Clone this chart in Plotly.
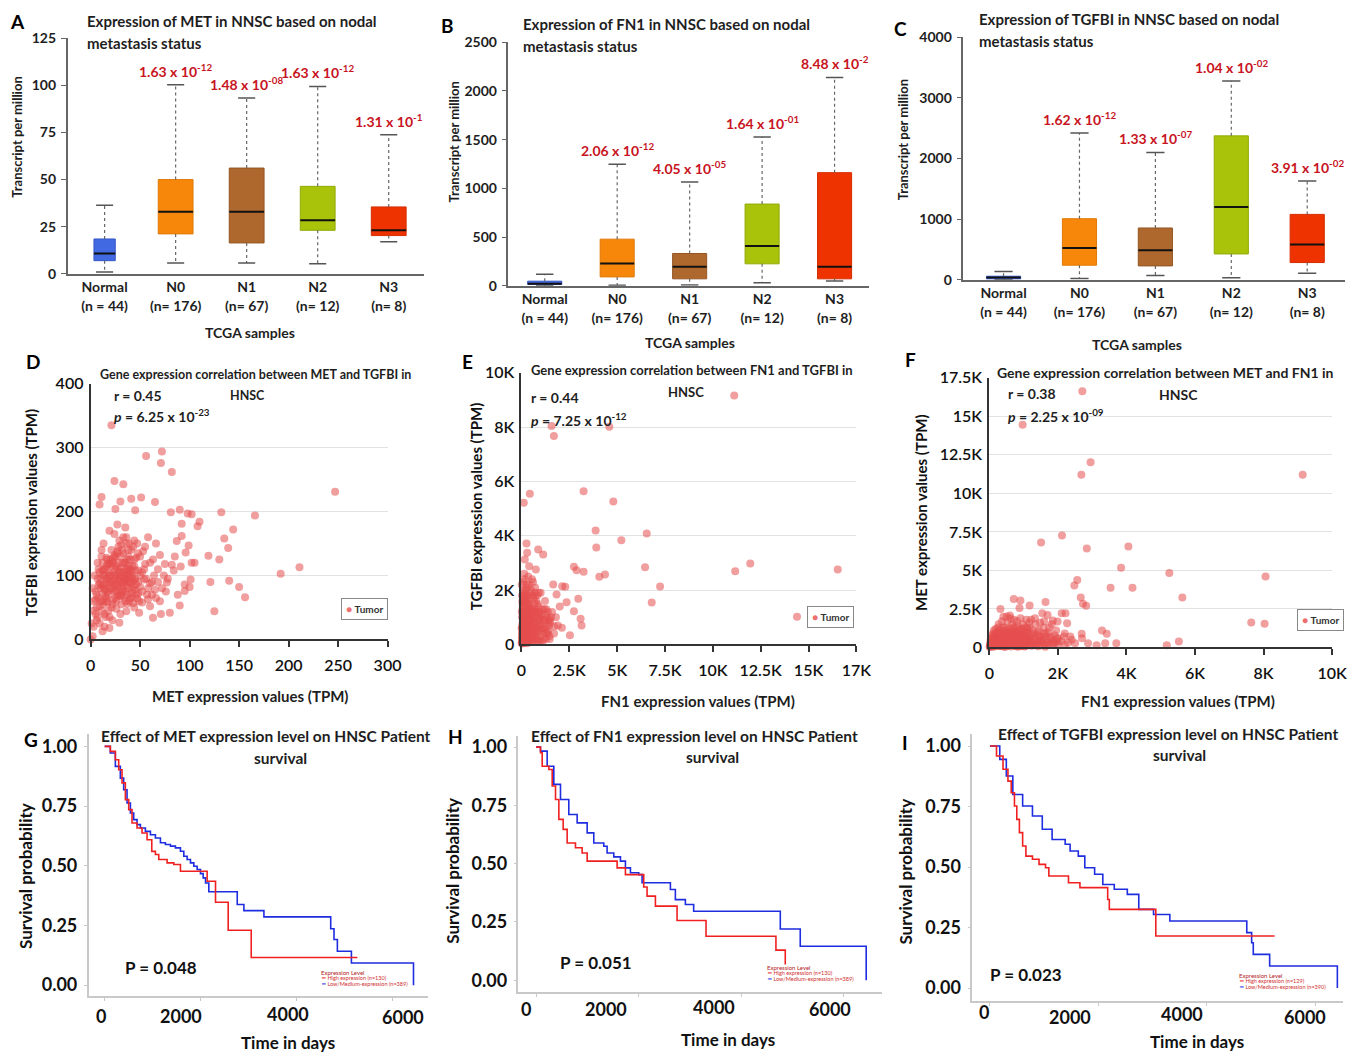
import plotly.graph_objects as go

W, H = 1361, 1055
FONT = "Lato, 'Open Sans', sans-serif"
TXT = "#1e1e1e"
# the photographed page comes back slightly shrunk and offset; map reference pixels through this
SHOT_X0, SHOT_SX = 4.3, 0.9857
SHOT_Y0, SHOT_SY = 9.86, 0.983

# ---------------- DATA ----------------
box_ticktext = ["Normal<br>(n = 44)", "N0<br>(n= 176)", "N1<br>(n= 67)", "N2<br>(n= 12)", "N3<br>(n= 8)"]
box_pos = [0, 1, 2, 3, 4]
box_colors = ["#4169E1", "#F7870A", "#AE682E", "#A9C20A", "#EE3300"]
box_edges = ["#3556c8", "#e07a08", "#955624", "#93aa08", "#d42d00"]

MET_lower = [1, 5.8, 5.8, 5.3, 17]
MET_q1 = [7, 21.2, 16.4, 23.1, 20.3]
MET_med = [10.8, 33, 33, 28.4, 23.1]
MET_q3 = [18.5, 50, 56.1, 46.4, 35.5]
MET_upper = [36.4, 100.3, 93.2, 99.4, 73.8]
MET_p = ["", "1.63 x 10<sup>-12</sup>", "1.48 x 10<sup>-08</sup>", "1.63 x 10<sup>-12</sup>", "1.31 x 10<sup>-1</sup>"]

FN1_lower = [0, 7, 10, 31, 51]
FN1_q1 = [15, 92, 72, 226, 72]
FN1_med = [22, 229, 195, 408, 195]
FN1_q3 = [48, 479, 332, 839, 1161]
FN1_upper = [120, 1247, 1065, 1527, 2137]
FN1_p = ["", "2.06 x 10<sup>-12</sup>", "4.05 x 10<sup>-05</sup>", "1.64 x 10<sup>-01</sup>", "8.48 x 10<sup>-2</sup>"]

TGFBI_lower = [0, 22, 71, 33, 110]
TGFBI_q1 = [16, 241, 230, 427, 285]
TGFBI_med = [38, 526, 488, 1200, 581]
TGFBI_q3 = [60, 1008, 855, 2373, 1079]
TGFBI_upper = [137, 2422, 2099, 3277, 1627]
TGFBI_p = ["", "1.62 x 10<sup>-12</sup>", "1.33 x 10<sup>-07</sup>", "1.04 x 10<sup>-02</sup>", "3.91 x 10<sup>-02</sup>"]

# Scatter D: MET (x) vs TGFBI (y)
D_met = [21, 72, 56, 71, 82, 24, 33, 247, 166, 132, 102, 90, 110, 144, 135, 139, 119, 130, 192, 211,
         121, 140, 150, 156, 125, 90, 80, 71, 63, 11, 9, 25, 30, 41, 51, 65, 45, 81, 92, 98,
         108, 92, 87, 99, 96, 102, 91, 82, 101, 95, 77, 65, 58, 49, 43, 29, 19, 12, 2, 0,
         5, 8, 10, 12, 15, 18, 20, 22, 25, 28, 30, 32, 35, 38, 40, 42, 45, 48, 50, 55,
         3, 6, 9, 14, 17, 19, 23, 26, 27, 31, 34, 36, 39, 41, 44, 47, 52, 57, 60, 62,
         4, 7, 11, 13, 16, 21, 24, 29, 33, 37, 43, 46, 53, 58, 66, 70, 75,
         2, 6, 10, 15, 18, 22, 26, 30, 34, 38, 42, 46, 50, 54,
         8, 12, 16, 20, 24, 28, 32, 36, 40, 44, 48,
         1, 5, 9, 13, 17, 21, 25, 29, 33, 37, 41,
         14, 18, 22, 26, 30, 34, 38,
         3, 7, 12, 19, 27, 35, 44, 55, 68, 74, 85,
         20, 25, 28, 32, 35, 38, 45, 48, 52, 60, 63, 66, 72, 78, 84, 88, 95, 100, 105,
         23, 27, 31, 36, 39, 11, 16, 35, 26, 31, 37, 42, 18, 14, 9]
D_tgfbi = [335, 294, 287, 276, 262, 248, 243, 231, 194, 199, 196, 203, 184, 172, 158, 143, 131, 125, 103, 113,
           90, 92, 82, 66, 44, 53, 42, 40, 34, 223, 211, 204, 216, 220, 222, 215, 202, 199, 181, 197,
           177, 162, 154, 147, 136, 120, 114, 117, 94, 76, 89, 78, 63, 42, 57, 26, 18, 13, 5, 0,
           62, 85, 95, 72, 88, 105, 78, 92, 110, 84, 98, 120, 76, 102, 88, 115, 95, 108, 82, 118,
           45, 30, 52, 40, 58, 35, 62, 48, 70, 55, 66, 44, 60, 72, 50, 64, 58, 70, 52, 90,
           100, 120, 130, 150, 115, 140, 165, 155, 135, 125, 145, 128, 138, 160, 150, 132, 118,
           80, 70, 60, 68, 90, 122, 100, 112, 90, 80, 96, 86, 100, 94,
           110, 100, 128, 118, 132, 145, 105, 150, 110, 125, 135,
           25, 40, 25, 55, 75, 50, 85, 68, 78, 95, 105,
           20, 45, 30, 60, 40, 120, 140,
           60, 95, 108, 170, 180, 175, 155, 145, 110, 100, 130,
           100, 95, 120, 88, 100, 115, 78, 72, 105, 88, 125, 65, 80, 95, 108, 70, 86, 82, 120,
           128, 138, 148, 160, 108, 85, 65, 93, 75, 68, 56, 66, 118, 78, 88]
D_met_dense = [12, 14, 16, 18, 20, 22, 24, 26, 28, 30, 32, 34, 36, 38, 40, 42, 44, 46, 48, 50,
               11, 13, 15, 17, 19, 21, 23, 25, 27, 29, 31, 33, 35, 37, 39, 41, 43, 45, 47, 49,
               6, 8, 10, 12, 14, 16, 18, 20, 22, 24, 26, 28, 30, 32, 34, 36, 38, 40, 42, 44,
               3, 5, 7, 9, 11, 13, 15, 17, 19, 21, 23, 25, 27, 29, 31, 33, 35, 37, 39, 41,
               52, 54, 56, 58, 60, 62, 64, 68, 70, 76]
D_tgfbi_dense = [60, 80, 95, 70, 125, 55, 75, 115, 95, 70, 140, 105, 85, 130, 65, 100, 115, 70, 90, 130,
                 45, 110, 35, 125, 100, 88, 105, 65, 135, 92, 80, 160, 120, 70, 98, 140, 82, 108, 150, 60,
                 50, 65, 80, 120, 100, 60, 118, 90, 80, 100, 88, 110, 130, 75, 95, 110, 90, 125, 78, 92,
                 20, 75, 35, 105, 140, 85, 110, 95, 80, 115, 120, 130, 82, 105, 100, 90, 60, 110, 150, 90,
                 75, 110, 95, 80, 120, 70, 100, 90, 60, 75]

# Scatter E: FN1 (x) vs TGFBI (y)
E_fn1 = [11117, 4590, 1571, 1693, 122, 436, 3246, 4799, 3874, 6545, 5218, 3909, 6457, 2740, 2880, 3246, 4066, 4363,
         11169, 11955, 16527, 7243, 6806, 14398, 2967, 873, 1134, 262, 297, 175, 401, 750, 2286, 1658, 2129, 1832,
         2356, 2740, 3089, 3141, 2531, 2112, 1483, 1710, 1309, 960, 698,
         50, 100, 150, 200, 250, 300, 80, 120, 180, 220, 280, 330, 400, 450, 500, 550, 600, 650, 700, 750,
         800, 850, 900, 950, 1000, 1050, 1100, 1200, 1300, 1400, 1500, 1600, 1700, 1800, 1900, 2000,
         60, 90, 130, 170, 210, 240, 270, 310, 350, 380, 420, 470, 520, 570, 620, 680, 720, 780, 830, 880,
         930, 980, 1150, 1250, 1350, 1450, 20, 40, 70, 110, 160, 190, 230, 260, 290, 320, 360, 390, 430, 460,
         490, 530, 560, 590, 630, 660, 690, 730, 760, 790, 840, 870, 920, 960, 1020, 1080, 1130, 1180, 1230,
         1280, 1330, 1380, 1420, 1480, 10, 30, 55, 140, 200, 340, 410, 510, 610, 710, 820, 1000, 150, 350,
         600, 30, 70, 120, 250, 450, 650, 850, 1100, 15, 45, 95, 175, 275, 375, 550, 700, 900, 1200,
         35, 65, 85, 105, 145, 185, 215, 255, 305, 345, 385, 425, 465, 505, 545, 25, 75, 125, 165, 205]
E_tgfbi = [9166, 8012, 8037, 7669, 5215, 5546, 5644, 5264, 4196, 4086, 3840, 3571, 2847, 2859, 2736, 2675, 2491, 2577,
           2699, 2982, 2761, 2135, 1546, 1018, 1681, 3497, 3313, 3718, 3374, 3129, 2883, 2761, 2123, 2209, 2147, 1840,
           1558, 1227, 945, 699, 344, 613, 920, 675, 429, 1166, 1779,
           200, 500, 900, 1300, 1700, 2100, 2300, 1900, 1500, 1100, 700, 300, 1000, 1400, 600, 1800, 200, 1200, 800, 1600,
           400, 1000, 1400, 700, 300, 1100, 600, 900, 1300, 500, 800, 1200, 400, 1000, 700, 1400,
           800, 1100, 300, 600, 2000, 400, 1200, 900, 1500, 200, 700, 1100, 300, 900, 500, 1500, 300, 1100, 700, 200,
           1200, 900, 200, 600, 1000, 300, 100, 400, 1000, 1600, 2400, 800, 500, 1500, 100, 1800, 600, 1300, 400, 1900,
           900, 1300, 100, 700, 1000, 400, 1900, 600, 1300, 200, 1500, 500, 900, 100, 600, 1300, 900, 400, 1600,
           200, 700, 1200, 900, 200, 2200, 1800, 1500, 1000, 100, 1000, 2200, 2000, 1700, 2100, 1800, 1900, 2600, 2500,
           2300, 600, 300, 700, 200, 200, 100, 100, 100, 1200, 1600, 2000, 1800, 2200, 1700, 2400, 1200, 1900, 1300,
           450, 250, 650, 350, 550, 150, 850, 250, 450, 650, 350, 550, 150, 750, 450, 50, 150, 50, 250, 350]
E_fn1_dense = [20, 40, 60, 80, 100, 120, 140, 160, 180, 200, 220, 240, 260, 280, 300, 320, 340, 360, 380, 400,
               10, 30, 50, 70, 90, 110, 130, 150, 170, 190, 210, 230, 250, 270, 290, 310, 330, 350, 370, 390,
               15, 35, 55, 75, 95, 115, 135, 155, 175, 195, 215, 235, 255, 275, 295, 315, 335, 355, 375, 395,
               420, 440, 480, 500, 540, 580, 620, 660, 700, 740, 800, 860, 900, 960, 1050, 1150, 1250, 1350, 1450, 1550]
E_tgfbi_dense = [300, 700, 1200, 1600, 200, 900, 1400, 500, 1000, 1800, 300, 800, 1100, 400, 1300, 700, 200, 1100, 900, 400,
                 600, 1000, 1300, 500, 1700, 400, 1200, 700, 1500, 300, 1000, 1400, 600, 900, 1600, 500, 1200, 300, 800, 1500,
                 50, 150, 250, 350, 450, 550, 650, 750, 850, 950, 1050, 1150, 1250, 1350, 50, 150, 250, 350, 450, 550,
                 1300, 800, 500, 1200, 900, 400, 1300, 800, 500, 1000, 700, 1200, 600, 1000, 500, 800, 1100, 400, 700, 1000]

# Scatter F: FN1 (x) vs MET (y)
F_fn1 = [2713, 972, 2954, 2685, 9139, 2120, 1509, 2843, 4056, 3843, 5250, 8056, 2565, 2481, 3537, 4176, 5630, 2667,
         2731, 2824, 7639, 8028, 5528, 5176, 3704, 3380, 3426, 3287, 3130, 2880, 2694, 2704, 2111, 2222, 1639, 1176,
         907, 713, 880, 324, 509, 602, 1546, 1852, 1991, 2269, 2361, 2500, 2176, 1991,
         50, 100, 150, 200, 250, 300, 350, 400, 450, 500, 550, 600, 650, 700, 750, 800, 850, 900, 950, 1000,
         1050, 1100, 1150, 1200, 1300, 1400, 1500, 1600, 1700, 1800, 1900, 2000, 2100, 2200, 2300,
         80, 120, 180, 220, 270, 320, 380, 420, 480, 520, 580, 620, 680, 720, 780, 830, 880, 930, 980, 1030,
         1080, 1130, 1180, 1250, 1350, 1450, 1550, 1650, 1750, 1850, 1950, 30, 60, 90, 130, 160, 190, 240, 290,
         340, 370, 440, 470, 540, 570, 640, 660, 740, 760, 820, 860, 920, 960, 1010, 1060, 1110, 1160, 1210, 1260,
         1320, 1380, 1420, 1480, 1520, 1580, 1620, 1680, 1720, 1780, 1820, 1880, 1980, 20, 40, 110, 210, 260, 310,
         410, 460, 510, 610, 710, 810, 910, 1020, 1120, 1220, 1330, 1440, 1600, 1700,
         10, 35, 70, 140, 230, 330, 430, 530, 630, 730, 830, 930, 1030, 1230, 1430, 1630]
F_met = [16623, 14459, 12013, 11212, 11212, 7273, 6818, 6429, 6558, 5173, 4827, 4610, 4372, 4026, 3874, 3874, 3247, 3247,
         2835, 2706, 1623, 1537, 390, 152, 281, 281, 887, 1104, 152, 281, 887, 606, 2229, 2229, 2944, 2727,
         3052, 3139, 2554, 2489, 2013, 2078, 2229, 1753, 1688, 1580, 714, 281, 714, 390,
         100, 300, 500, 200, 700, 400, 900, 150, 600, 1100, 300, 800, 200, 1300, 500, 100, 900, 400, 1200, 200,
         700, 1000, 300, 600, 900, 300, 700, 200, 500, 300, 800, 150, 400, 200, 300,
         600, 900, 1200, 400, 1500, 100, 1300, 500, 300, 1600, 1000, 400, 700, 1800, 300, 1400, 800, 100, 1500, 400,
         1800, 800, 1300, 400, 1500, 1100, 500, 900, 1300, 200, 1100, 300, 800, 50, 1100, 200, 700, 1000, 250,
         600, 1700, 900, 50, 700, 200, 1100, 1500, 100, 1000, 600, 200, 1000, 600, 1000, 100, 500, 1600, 200, 1100,
         600, 200, 800, 1600, 300, 1300, 700, 150, 1000, 600, 1500, 400, 600, 150, 500, 150, 900, 1300, 1100,
         2000, 1300, 500, 1900, 900, 1700, 1900, 1300, 1200, 1800, 1900, 400, 1700, 2100,
         50, 80, 120, 60, 90, 150, 50, 100, 70, 160, 40, 90, 60, 120, 80, 50]
F_fn1_dense = [20, 50, 80, 110, 140, 170, 200, 230, 260, 290, 320, 350, 380, 410, 440, 470, 500, 530, 560, 590,
               620, 650, 680, 710, 740, 770, 800, 830, 860, 890, 920, 950, 980, 1010, 1040, 1070, 1100, 1150, 1200, 1250,
               30, 60, 90, 120, 150, 180, 210, 240, 270, 300, 330, 360, 390, 420, 450, 480, 510, 550, 600, 650,
               700, 750, 800, 850, 900, 1000, 1100, 1200, 1300, 1400, 1500, 1600, 1700, 1800, 1900, 2000, 2200, 2400, 1350, 1450]
F_met_dense = [50, 200, 350, 100, 450, 250, 600, 150, 400, 700, 300, 550, 100, 800, 350, 600, 200, 900, 450, 150,
               650, 300, 1000, 500, 250, 750, 400, 1100, 550, 300, 800, 450, 150, 650, 350, 900, 250, 550, 850, 150,
               250, 450, 650, 300, 800, 500, 150, 900, 550, 100, 1000, 400, 750, 200, 1100, 500, 850, 300, 1200, 550,
               150, 1300, 900, 100, 1200, 800, 1300, 400, 700, 1000, 400, 900, 300, 700, 250, 600, 900, 500, 150, 600]

# Kaplan-Meier curves (time in days, survival probability)
G_high_t = [0, 118, 223, 293, 362, 432, 502, 571, 676, 780, 885, 983, 1059, 1129, 1303, 1443, 1582, 2139, 2314, 2578, 3059, 5275]
G_high_s = [1.0, 0.979, 0.944, 0.902, 0.847, 0.777, 0.735, 0.679, 0.658, 0.637, 0.609, 0.56, 0.547, 0.526, 0.512, 0.505, 0.477, 0.435, 0.347, 0.230, 0.116, 0.116]
G_low_t = [0, 118, 223, 327, 397, 467, 537, 606, 676, 746, 850, 955, 1059, 1164, 1268, 1373, 1477, 1582, 1652, 1721, 1791, 1861, 1930, 2000, 2056, 2105, 2174, 2767, 2906, 3324, 4718, 4787, 4857, 5150, 6446, 6446]
G_low_s = [1.0, 0.972, 0.916, 0.867, 0.818, 0.763, 0.721, 0.693, 0.672, 0.658, 0.644, 0.630, 0.616, 0.596, 0.589, 0.582, 0.575, 0.561, 0.540, 0.526, 0.512, 0.498, 0.484, 0.467, 0.449, 0.428, 0.391, 0.338, 0.312, 0.286, 0.236, 0.191, 0.142, 0.093, 0.093, 0.0]

H_high_t = [0, 84, 117, 247, 312, 377, 442, 526, 604, 766, 896, 994, 1578, 1740, 2097, 2162, 2325, 2747, 3312, 4675, 4857, 4857]
H_high_s = [1.0, 0.976, 0.918, 0.904, 0.833, 0.775, 0.690, 0.647, 0.589, 0.568, 0.546, 0.511, 0.482, 0.453, 0.40, 0.361, 0.318, 0.256, 0.189, 0.129, 0.129, 0.067]
H_low_t = [0, 84, 214, 344, 474, 636, 799, 994, 1123, 1318, 1383, 1513, 1643, 1740, 1838, 2000, 2065, 2617, 2714, 2909, 3071, 4760, 5149, 6435, 6435]
H_low_s = [1.0, 0.983, 0.918, 0.840, 0.775, 0.711, 0.675, 0.632, 0.589, 0.575, 0.546, 0.529, 0.511, 0.482, 0.461, 0.453, 0.418, 0.389, 0.346, 0.325, 0.296, 0.220, 0.146, 0.146, 0.0]

I_high_t = [0, 121, 241, 332, 392, 452, 495, 543, 603, 663, 784, 905, 1025, 1086, 1448, 1659, 2171, 2201, 3058, 5247]
I_high_s = [1.0, 0.959, 0.904, 0.855, 0.807, 0.752, 0.697, 0.642, 0.587, 0.545, 0.532, 0.511, 0.497, 0.463, 0.435, 0.415, 0.366, 0.325, 0.215, 0.215]
I_low_t = [0, 181, 302, 422, 603, 784, 965, 1146, 1387, 1478, 1629, 1749, 1930, 2081, 2292, 2533, 2744, 3016, 3317, 4735, 4825, 4855, 5157, 6405, 6405]
I_low_s = [1.0, 0.945, 0.876, 0.800, 0.752, 0.711, 0.656, 0.614, 0.594, 0.566, 0.545, 0.497, 0.470, 0.428, 0.408, 0.387, 0.325, 0.304, 0.277, 0.229, 0.187, 0.139, 0.091, 0.091, 0.0]

km_xtick_text = ["0", "2000", "4000", "6000"]

# ---------------- HELPERS ----------------
def px(x):
    return min(1.0, max(0.0, ((x - SHOT_X0) / SHOT_SX) / W))


def py(y):
    return min(1.0, max(0.0, 1 - ((y - SHOT_Y0) / SHOT_SY) / H))


fig = go.Figure()
layout = {}
annotations = []


def ax_names(k):
    return ("xaxis" if k == 1 else f"xaxis{k}", "yaxis" if k == 1 else f"yaxis{k}",
            "x" if k == 1 else f"x{k}", "y" if k == 1 else f"y{k}")


def ann(text, x, y, size, xanchor="center", yanchor="middle", color=TXT, angle=0, bold=True):
    annotations.append(dict(text=(f"<b>{text}</b>" if bold else text), x=px(x), y=py(y), xref="paper", yref="paper",
                            showarrow=False, xanchor=xanchor, yanchor=yanchor, textangle=angle,
                            font=dict(family=FONT, size=size, color=color)))


def box_panel(k, xpix, ypix, xr, yr, yticks, lower, q1, med, q3, upper, ptexts, widths):
    xa, ya, xr_, yr_ = ax_names(k)
    for i in range(len(box_pos)):
        fig.add_trace(go.Bar(x=[box_pos[i]], y=[q3[i] - q1[i]], base=[q1[i]], width=widths[i],
                             marker=dict(color=box_colors[i], line=dict(color=box_edges[i], width=1)),
                             xaxis=xr_, yaxis=yr_, showlegend=False, hoverinfo="skip"))
    wx, wy, cx, cy, mx, my = [], [], [], [], [], []
    for i, p in enumerate(box_pos):
        wx += [p, p, None, p, p, None]
        wy += [q3[i], upper[i], None, q1[i], lower[i], None]
        cw = 0.12
        cx += [p - cw, p + cw, None, p - cw, p + cw, None]
        cy += [upper[i], upper[i], None, lower[i], lower[i], None]
        hw = widths[i] / 2
        mx += [p - hw, p + hw, None]
        my += [med[i], med[i], None]
    fig.add_trace(go.Scatter(x=wx, y=wy, mode="lines", line=dict(color="#666", width=1.2, dash="dot"),
                             xaxis=xr_, yaxis=yr_, showlegend=False, hoverinfo="skip"))
    fig.add_trace(go.Scatter(x=cx, y=cy, mode="lines", line=dict(color="#555", width=1.5),
                             xaxis=xr_, yaxis=yr_, showlegend=False, hoverinfo="skip"))
    fig.add_trace(go.Scatter(x=mx, y=my, mode="lines", line=dict(color="#111", width=2),
                             xaxis=xr_, yaxis=yr_, showlegend=False, hoverinfo="skip"))
    layout[xa] = dict(domain=[px(xpix[0]), px(xpix[1])], range=xr, anchor=yr_, showline=True, linecolor="#666",
                      linewidth=1.5, tickvals=box_pos, ticktext=box_ticktext, ticks="", showgrid=False,
                      zeroline=False, ticklabelstandoff=0,
                      tickfont=dict(family=FONT, size=14, color=TXT, weight=700))
    layout[ya] = dict(domain=[py(ypix[1]), py(ypix[0])], range=yr, anchor=xr_, showline=True, linecolor="#666",
                      linewidth=1.5, ticks="outside", ticklen=5, tickcolor="#666", tickvals=yticks,
                      showgrid=False, zeroline=False, ticklabelstandoff=2,
                      tickfont=dict(family=FONT, size=14, color=TXT, weight=700))
    for i, t in enumerate(ptexts):
        if t:
            annotations.append(dict(text=f"<b>{t}</b>", x=box_pos[i], y=upper[i], xref=xr_, yref=yr_,
                                    showarrow=False, xanchor="center", yanchor="bottom", yshift=3,
                                    font=dict(family=FONT, size=14, color="#C8141E")))


def scatter_panel(k, xpix, ypix, xr, yr, xt, xtt, yt, ytt, xs, ys):
    xa, ya, xr_, yr_ = ax_names(k)
    fig.add_trace(go.Scatter(x=xs, y=ys, mode="markers", cliponaxis=False,
                             marker=dict(size=8, color="rgba(229,78,78,0.55)", line=dict(width=0)),
                             xaxis=xr_, yaxis=yr_, showlegend=False, hoverinfo="skip"))
    layout[xa] = dict(domain=[px(xpix[0]), min(px(xpix[1]), 1347 / W)], range=xr, anchor=yr_, showline=True,
                      linecolor="#333", linewidth=2, ticks="outside", ticklen=6, tickwidth=1.5, tickcolor="#333",
                      tickvals=xt, ticktext=xtt, showgrid=False, zeroline=False, ticklabelstandoff=4,
                      tickfont=dict(family=FONT, size=16, color="#111", weight=600))
    layout[ya] = dict(domain=[py(ypix[1]), py(ypix[0])], range=yr, anchor=xr_, showline=True, linecolor="#333",
                      linewidth=2, ticks="", tickvals=yt, ticktext=ytt, showgrid=True, gridcolor="#e2e2e2",
                      gridwidth=1.2, zeroline=False, ticklabelstandoff=2,
                      tickfont=dict(family=FONT, size=16, color="#111", weight=600))


def km_panel(k, xpix, ypix, xr, yr, ht, hs, lt, ls, label_pos):
    xa, ya, xr_, yr_ = ax_names(k)
    fig.add_trace(go.Scatter(x=lt, y=ls, mode="lines", line=dict(color="#1f2de0", width=1.6, shape="hv"),
                             xaxis=xr_, yaxis=yr_, showlegend=False, hoverinfo="skip"))
    fig.add_trace(go.Scatter(x=ht, y=hs, mode="lines", line=dict(color="#f02020", width=1.6, shape="hv"),
                             xaxis=xr_, yaxis=yr_, showlegend=False, hoverinfo="skip"))
    layout[xa] = dict(domain=[px(xpix[0]), min(px(xpix[1]), 1358 / W)], range=xr, anchor=yr_, showline=True,
                      linecolor="#c9c9c9", linewidth=1.5, ticks="outside", ticklen=3, tickcolor="#c9c9c9",
                      tickvals=[0, 2000, 4000, 6000], showticklabels=False, showgrid=False, zeroline=False)
    layout[ya] = dict(domain=[py(ypix[1]), py(ypix[0])], range=yr, anchor=xr_, showline=True, linecolor="#c9c9c9",
                      linewidth=1.5, ticks="outside", ticklen=3, tickcolor="#c9c9c9",
                      tickvals=[0, 0.25, 0.5, 0.75, 1.0], ticktext=["0.00", "0.25", "0.50", "0.75", "1.00"],
                      showgrid=False, zeroline=False, ticklabelstandoff=3,
                      tickfont=dict(family=FONT, size=18, color="#111", weight=700))
    # the source figure prints its time labels slightly off the tick marks
    for lab, (lx, ly) in zip(km_xtick_text, label_pos):
        ann(lab, lx, ly, 18, color="#111")


# ---------------- ROW 1: box plots ----------------
box_panel(1, (67, 423), (38, 274), [-0.52, 4.49], [0, 125], [0, 25, 50, 75, 100, 125],
          MET_lower, MET_q1, MET_med, MET_q3, MET_upper, MET_p, [0.3, 0.49, 0.49, 0.49, 0.49])
box_panel(2, (508, 869), (42, 286), [-0.5, 4.48], [0, 2500], [0, 500, 1000, 1500, 2000, 2500],
          FN1_lower, FN1_q1, FN1_med, FN1_q3, FN1_upper, FN1_p, [0.47, 0.47, 0.47, 0.47, 0.47])
box_panel(3, (963, 1345), (37, 280), [-0.53, 4.5], [0, 4000], [0, 1000, 2000, 3000, 4000],
          TGFBI_lower, TGFBI_q1, TGFBI_med, TGFBI_q3, TGFBI_upper, TGFBI_p, [0.45, 0.45, 0.45, 0.45, 0.45])

# ---------------- ROW 2: scatter ----------------
scatter_panel(4, (90, 387), (384, 640), [0, 300], [0, 400],
              [0, 50, 100, 150, 200, 250, 300], None, [0, 100, 200, 300, 400], None,
              D_met + D_met_dense, D_tgfbi + D_tgfbi_dense)
scatter_panel(5, (521, 856), (373, 645), [0, 17500], [0, 10000],
              [0, 2500, 5000, 7500, 10000, 12500, 15000, 17500],
              ["0", "2.5K", "5K", "7.5K", "10K", "12.5K", "15K", "17K"],
              [0, 2000, 4000, 6000, 8000, 10000], ["0", "2K", "4K", "6K", "8K", "10K"],
              E_fn1 + E_fn1_dense, E_tgfbi + E_tgfbi_dense)
scatter_panel(6, (989, 1350), (378, 648), [0, 10000], [0, 17500],
              [0, 2000, 4000, 6000, 8000, 10000], ["0", "2K", "4K", "6K", "8K", "10K"],
              [0, 2500, 5000, 7500, 10000, 12500, 15000, 17500],
              ["0", "2.5K", "5K", "7.5K", "10K", "12.5K", "15K", "17.5K"],
              F_fn1 + F_fn1_dense, F_met + F_met_dense)

# ---------------- ROW 3: Kaplan-Meier ----------------
km_panel(7, (88, 427), (735, 997), [-334, 6739], [-0.046, 1.05], G_high_t, G_high_s, G_low_t, G_low_s,
         [(100, 1017), (180, 1017), (287, 1015), (402, 1018)])
km_panel(8, (518, 882), (737, 993), [-345, 6750], [-0.051, 1.046], H_high_t, H_high_s, H_low_t, H_low_s,
         [(526, 1010), (606, 1010), (714, 1008), (830, 1010)])
km_panel(9, (972, 1350), (735, 1002), [-325, 6510], [-0.054, 1.048], I_high_t, I_high_s, I_low_t, I_low_s,
         [(984, 1013), (1070, 1018), (1182, 1015), (1305, 1018)])

# ---------------- TEXT ----------------
for letter, x, y in [("A", 17, 21), ("B", 447, 25), ("C", 900, 28), ("D", 32, 362), ("E", 467, 362),
                     ("F", 910, 360), ("G", 30, 740), ("H", 455, 737), ("I", 905, 743)]:
    ann(letter, x, y, 19, color="#000")

# box titles
ann("Expression of MET in NNSC based on nodal", 84, 21, 15, xanchor="left")
ann("metastasis status", 84, 43, 15, xanchor="left")
ann("Expression of FN1 in NNSC based on nodal", 521, 24, 15, xanchor="left")
ann("metastasis status", 521, 46, 15, xanchor="left")
ann("Expression of TGFBI in NNSC based on nodal", 977, 19, 15, xanchor="left")
ann("metastasis status", 977, 41, 15, xanchor="left")
ann("Transcript per million", 16, 137, 13, angle=-90)
ann("Transcript per million", 453, 142, 13, angle=-90)
ann("Transcript per million", 903, 140, 13, angle=-90)
ann("TCGA samples", 249, 333, 14)
ann("TCGA samples", 690, 343, 14)
ann("TCGA samples", 1137, 345, 14)

# scatter titles
ann("Gene expression correlation between MET and TGFBI in", 97, 375, 12.5, xanchor="left")
ann("HNSC", 247, 396, 12.5)
ann("r = 0.45", 111, 396, 14, xanchor="left")
ann("<i>p</i> = 6.25 x 10<sup>-23</sup>", 111, 416, 14, xanchor="left")
ann("Gene expression correlation between FN1 and TGFBI in", 529, 370, 13, xanchor="left")
ann("HNSC", 686, 392, 13)
ann("r = 0.44", 529, 398, 14, xanchor="left")
ann("<i>p</i> = 7.25 x 10<sup>-12</sup>", 529, 420, 14, xanchor="left")
ann("Gene expression correlation between MET and FN1 in", 995, 373, 14, xanchor="left")
ann("HNSC", 1178, 395, 14)
ann("r = 0.38", 1006, 394, 14, xanchor="left")
ann("<i>p</i> = 2.25 x 10<sup>-09</sup>", 1006, 416, 14, xanchor="left")
ann("TGFBI expression values (TPM)", 30, 513, 15, angle=-90, color="#111")
ann("MET expression values (TPM)", 249, 697, 15)
ann("TGFBI expression values (TPM)", 475, 507, 15, angle=-90, color="#111")
ann("FN1 expression values (TPM)", 698, 702, 15)
ann("MET expression values (TPM)", 920, 513, 15, angle=-90, color="#111")
ann("FN1 expression values (TPM)", 1178, 702, 15)

for cx, cy in [(364, 609), (830, 617), (1320, 620)]:
    annotations.append(dict(text="<span style='color:#ec7070'>●</span> <b>Tumor</b>", x=px(cx), y=py(cy),
                            xref="paper", yref="paper", xanchor="center", yanchor="middle", showarrow=False,
                            bgcolor="white", bordercolor="#888", borderwidth=1, borderpad=4,
                            font=dict(family=FONT, size=10, color="#333")))

# KM titles
ann("Effect of MET expression level on HNSC Patient", 265, 737, 15.5)
ann("survival", 280, 759, 15.5)
ann("Effect of FN1 expression level on HNSC Patient", 694, 737, 15.5)
ann("survival", 712, 758, 15.5)
ann("Effect of TGFBI expression level on HNSC Patient", 1168, 735, 15.5)
ann("survival", 1179, 756, 15.5)
ann("Survival probability", 25, 877, 17, angle=-90, color="#111")
ann("Survival probability", 452, 872, 17, angle=-90, color="#111")
ann("Survival probability", 905, 872, 17, angle=-90, color="#111")
ann("Time in days", 287, 1043, 17, color="#111")
ann("Time in days", 728, 1040, 17, color="#111")
ann("Time in days", 1197, 1042, 17, color="#111")
ann("P = 0.048", 160, 968, 17, color="#111")
ann("P = 0.051", 596, 963, 17, color="#111")
ann("P = 0.023", 1026, 975, 17, color="#111")

for lx, ly, nh, nl in [(318, 973, 130, 389), (765, 968, 130, 389), (1237, 976, 129, 390)]:
    ann("Expression Level", lx, ly, 6, xanchor="left", color="#b22222", bold=False)
    ann(f"<span style='color:#f02020'>━</span> High expression (n={nh})", lx, ly + 6, 5.5, xanchor="left",
        color="#d03030", bold=False)
    ann(f"<span style='color:#1f2de0'>━</span> Low/Medium-expression (n={nl})", lx, ly + 12, 5.5, xanchor="left",
        color="#d03030", bold=False)

layout["annotations"] = annotations
fig.update_layout(**layout)
fig.update_layout(width=W, height=H, margin=dict(l=0, r=0, t=0, b=0), paper_bgcolor="white",
                  plot_bgcolor="white", barmode="overlay", showlegend=False,
                  font=dict(family=FONT, color=TXT))

POST = ("var gd=document.getElementById('{plot_id}');"
        "var de=document.documentElement, b=document.body;"
        "de.style.margin='0';de.style.padding='0';de.style.overflow='hidden';"
        "b.style.margin='0';b.style.padding='0';b.style.overflow='hidden';"
        "gd.style.position='fixed';gd.style.left='0px';gd.style.top='0px';")
fig.write_html("out.html", config={"displayModeBar": False}, post_script=POST)
